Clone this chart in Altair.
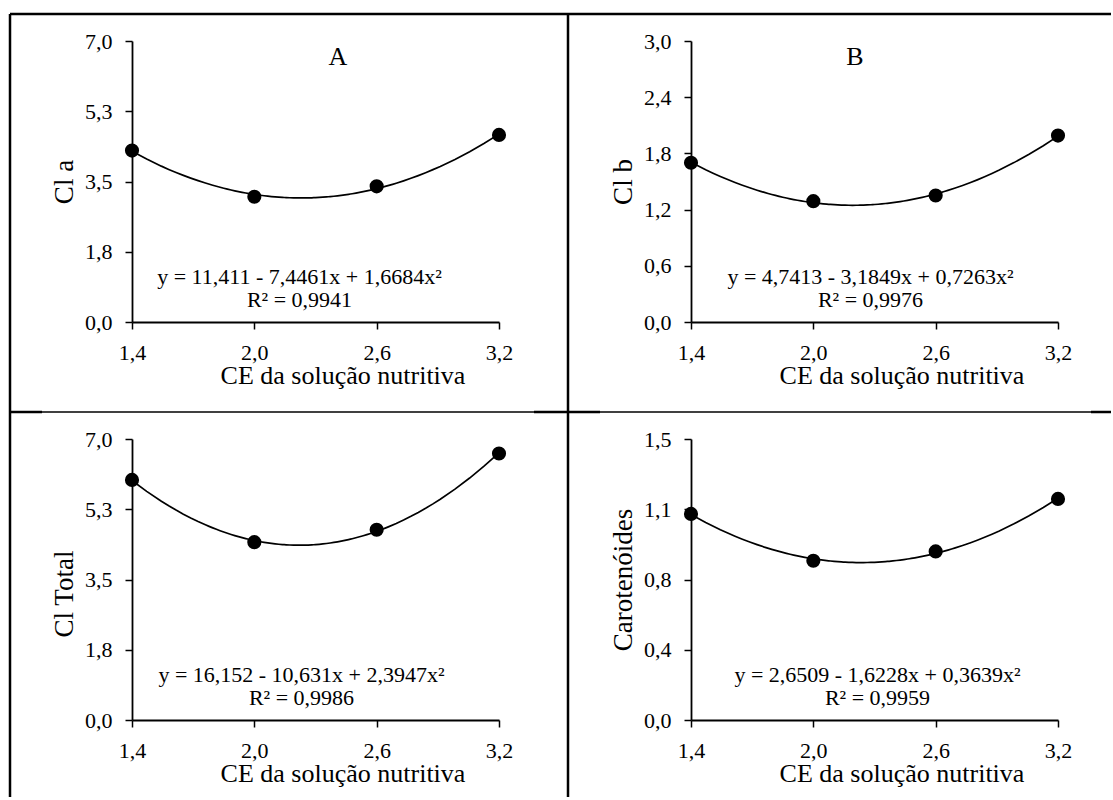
import altair as alt
import pandas as pd

# ---------------- data ----------------
ce = [1.4, 2.0, 2.6, 3.2]
cl_a = [4.27, 3.12, 3.38, 4.66]
cl_b = [1.70, 1.29, 1.35, 1.99]
cl_total = [5.98, 4.43, 4.74, 6.64]
carotenoides = [1.10, 0.85, 0.90, 1.18]

x_ticks = [1.4, 2.0, 2.6, 3.2]
x_tick_labels = ["1,4", "2,0", "2,6", "3,2"]
y_ticks_a = [0.0, 1.75, 3.5, 5.25, 7.0]
y_labels_a = ["0,0", "1,8", "3,5", "5,3", "7,0"]
y_ticks_b = [0.0, 0.6, 1.2, 1.8, 2.4, 3.0]
y_labels_b = ["0,0", "0,6", "1,2", "1,8", "2,4", "3,0"]
y_ticks_d = [0.0, 0.375, 0.75, 1.125, 1.5]
y_labels_d = ["0,0", "0,4", "0,8", "1,1", "1,5"]

x_title = "CE da solução nutritiva"
y_titles = ["Cl a", "Cl b", "Cl Total", "Carotenóides"]
letters = ["A", "B", "", ""]
equations = [
    "y = 11,411 - 7,4461x + 1,6684x²",
    "y = 4,7413 - 3,1849x + 0,7263x²",
    "y = 16,152 - 10,631x + 2,3947x²",
    "y = 2,6509 - 1,6228x + 0,3639x²",
]
r2_texts = ["R² = 0,9941", "R² = 0,9976", "R² = 0,9986", "R² = 0,9959"]

# ---------------- layout ----------------
W, H = 367, 281
FONT = "Liberation Serif"
LABEL_SIZE = 22


def lab_expr(vals, labs):
    parts = [f"abs(datum.value - {v}) < 1e-6 ? '{l}'" for v, l in zip(vals, labs)]
    return " : ".join(parts) + " : ''"


def one():
    return alt.Chart(pd.DataFrame({"k": [0]}))


def hrule(x1, x2, y, w):
    return one().mark_rule(color="black", strokeWidth=w).encode(
        x=alt.value(x1), x2=alt.value(x2), y=alt.value(y))


def vrule(x, y1, y2, w):
    return one().mark_rule(color="black", strokeWidth=w).encode(
        x=alt.value(x), y=alt.value(y1), y2=alt.value(y2))


def label(text, x, y, size):
    return one().mark_text(text=text, font=FONT, fontSize=size, color="black",
                           align="center", baseline="middle").encode(
        x=alt.value(x), y=alt.value(y))


AXIS_STYLE = dict(
    domainColor="black", domainWidth=1.8, tickColor="black", tickWidth=1.5,
    tickSize=7, labelFont=FONT, labelFontSize=LABEL_SIZE, labelColor="black",
    titleFont=FONT, titleFontWeight="normal", titleColor="black",
    grid=False, labelFlush=False, labelOverlap=False,
)


def panel(ys, yticks, ylabels, ytitle, letter, letter_x, eq, r2, eq_x, ytitle_y, extra=None):
    df = pd.DataFrame({"x": ce, "y": ys})
    xenc = alt.X("x:Q",
                 scale=alt.Scale(domain=[1.4, 3.2], nice=False, zero=False),
                 axis=alt.Axis(values=x_ticks, labelExpr=lab_expr(x_ticks, x_tick_labels),
                               labelBaseline="alphabetic", labelPadding=30,
                               title=x_title, titleX=W / 2 + 27, titleY=61,
                               titleBaseline="alphabetic", titleFontSize=26,
                               **AXIS_STYLE))
    yenc = alt.Y("y:Q",
                 scale=alt.Scale(domain=[yticks[0], yticks[-1]], nice=False),
                 axis=alt.Axis(values=yticks, labelExpr=lab_expr(yticks, ylabels),
                               title=ytitle, titleX=-68, titleY=ytitle_y,
                               titleBaseline="middle", labelPadding=13, titleFontSize=27,
                               **AXIS_STYLE))
    curve = alt.Chart(df).transform_regression(
        "x", "y", method="poly", order=2, extent=[1.4, 3.2]
    ).mark_line(color="black", strokeWidth=1.7).encode(x=xenc, y=yenc)
    pts = alt.Chart(df).mark_circle(size=200, color="black", opacity=1).encode(x=xenc, y=yenc)
    layers = [curve, pts,
              label(eq, eq_x, H - 45, 22),
              label(r2, eq_x, H - 22, 22)]
    if letter:
        layers.append(label(letter, letter_x, 16, 26))
    if extra:
        layers.extend(extra)
    return alt.layer(*layers).properties(width=W, height=H)


# figure frame (relative to panel A plot origin)
L, T, VX, HY, R, B = -122, -27, 436, 371, 979, 756
frame = [
    vrule(L, T, B, 2.5),
    hrule(L, R, T, 2.5),
    vrule(VX, T, B, 2.5),
    hrule(L, R, HY, 1.3),
    hrule(L, L + 32, HY, 2.5),
    hrule(VX - 34, VX + 32, HY, 2.5),
    hrule(R - 20, R, HY, 2.5),
]

pA = panel(cl_a, y_ticks_a, y_labels_a, y_titles[0], letters[0], 206,
           equations[0], r2_texts[0], W / 2 - 16, H / 2, extra=frame)
pB = panel(cl_b, y_ticks_b, y_labels_b, y_titles[1], letters[1], 164,
           equations[1], r2_texts[1], W / 2 - 4, H / 2)
pC = panel(cl_total, y_ticks_a, y_labels_a, y_titles[2], letters[2], 0,
           equations[2], r2_texts[2], W / 2 - 14, H / 2 + 14)
pD = panel(carotenoides, y_ticks_d, y_labels_d, y_titles[3], letters[3], 0,
           equations[3], r2_texts[3], W / 2 + 3, H / 2)

chart = alt.concat(
    pA, pB, pC, pD, columns=2,
    spacing={"row": 117, "column": 192},
    bounds="flush",
    padding={"left": 8, "top": 12, "right": 0, "bottom": 0},
).configure(
    style={"guide-label": {"font": FONT, "fontSize": LABEL_SIZE, "fill": "black"}},
).configure_axis(
    labelFont=FONT, labelFontSize=LABEL_SIZE, labelColor="black",
).configure_view(strokeWidth=0)

chart.save("out.html", embed_options={"renderer": "svg", "actions": False})
